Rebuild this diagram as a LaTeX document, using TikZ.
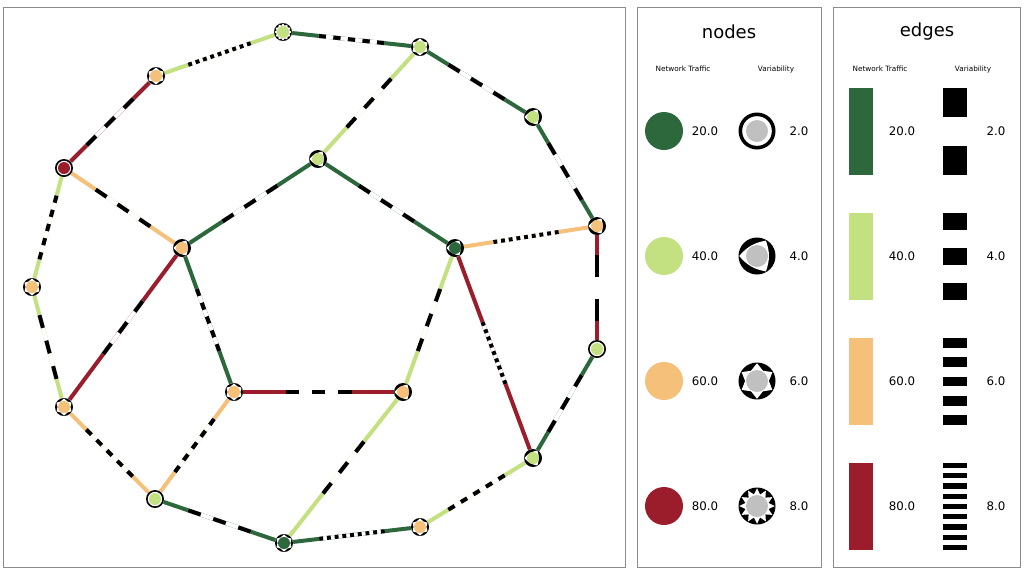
\documentclass[tikz,border=0pt]{standalone}
\usepackage{fontspec}
\setmainfont{DejaVu Sans}
\usetikzlibrary{calc}

\definecolor{tr20}{HTML}{2C683C}
\definecolor{tr40}{HTML}{C4E182}
\definecolor{tr60}{HTML}{F4C07A}
\definecolor{tr80}{HTML}{9B1D2C}
\definecolor{panelgray}{HTML}{8C8C8C}
\definecolor{hubgray}{HTML}{C0C0C0}

% edge: colour line, dashed black/white part of fixed length in the middle
\newcommand{\trafficedge}[4]{%
  \draw[edgeline,#3] (#1) -- (#2);
  \coordinate (em) at ($(#1)!0.5!(#2)$);
  \coordinate (es) at ($(em)!33pt!(#1)$);
  \coordinate (et) at ($(em)!33pt!(#2)$);
  \draw[edgeline,white] (es) -- (et);
  \pgfmathtruncatemacro{\lastseg}{#4-1}
  \foreach \k in {0,2,...,\lastseg}
    \draw[edgeline,black] ($(es)!{\k/#4}!(et)$) -- ($(es)!{(\k+1)/#4}!(et)$);
}

\newcommand{\glyphstar}[3]{%
  \fill[white] (90:{0.96*#2}) \foreach \i in {1,...,#1} {
    -- ({90+360*(\i-0.5)/#1}:{1.08*#3}) -- ({90+360*\i/#1}:{0.96*#2}) } -- cycle;
}

% glyph: centre, colour, variability code (1..4), outer radius, inner radius
\newcommand{\varglyph}[5]{%
  \begin{scope}[shift={(#1)}]
    \fill[black] (0,0) circle (#4);
    \ifcase#3\relax
    \or \fill[white] (0,0) circle ({0.8*#4});
    \or \fill[white] (180:{0.96*#4}) to[bend right=20] (60:{0.96*#4})
          to[bend right=20] (300:{0.96*#4}) to[bend right=20] cycle;
    \or \glyphstar{6}{#4}{#5}
    \or \glyphstar{12}{#4}{#5}
    \fi
    \fill[#2] (0,0) circle (#5);
  \end{scope}
}

\begin{document}
\begin{tikzpicture}
  [x=1pt,y=-1pt,
   hub/.style={circle,inner sep=0pt,minimum size=18pt},
   edgeline/.style={line width=4pt},
   panel/.style={draw=panelgray,line width=1pt},
   ttl/.style={font=\fontsize{18}{22}\selectfont},
   hdr/.style={font=\fontsize{7.3}{9}\selectfont},
   val/.style={font=\fontsize{11.8}{14}\selectfont}]
  \fill[white] (0,0) rectangle (1024,574);
  \useasboundingbox (0,0) rectangle (1024,574);

  \draw[panel] (3,7) rectangle (625,567);
  \draw[panel] (637,7) rectangle (821,567);
  \draw[panel] (833,7) rectangle (1020,567);

  % network
  \node[hub] (n1) at (283,32) {};
  \node[hub] (n2) at (420,47) {};
  \node[hub] (n3) at (533,117) {};
  \node[hub] (n4) at (597,226) {};
  \node[hub] (n5) at (597,349) {};
  \node[hub] (n6) at (533,458) {};
  \node[hub] (n7) at (420,527) {};
  \node[hub] (n8) at (284,543) {};
  \node[hub] (n9) at (155,499) {};
  \node[hub] (n10) at (64,407) {};
  \node[hub] (n11) at (32,287) {};
  \node[hub] (n12) at (64,168) {};
  \node[hub] (n13) at (156,76) {};
  \node[hub] (n14) at (318,159) {};
  \node[hub] (n15) at (455,248) {};
  \node[hub] (n16) at (403,392) {};
  \node[hub] (n17) at (234,392) {};
  \node[hub] (n18) at (182,248) {};

  \foreach \from/\to/\col/\segs in {n1/n13/tr40/17, n1/n2/tr20/9, n2/n3/tr20/5,
      n2/n14/tr40/5, n3/n4/tr20/5, n4/n15/tr60/17, n4/n5/tr80/3, n5/n6/tr20/5,
      n6/n15/tr80/17, n6/n7/tr40/9, n7/n8/tr20/17, n8/n16/tr40/5,
      n15/n16/tr40/5, n16/n17/tr80/5, n17/n18/tr20/9, n17/n9/tr60/9,
      n9/n8/tr20/5, n9/n10/tr60/9, n10/n11/tr40/5, n10/n18/tr80/5,
      n11/n12/tr40/9, n12/n13/tr80/5, n12/n18/tr60/5, n14/n18/tr20/5,
      n14/n15/tr20/5}
    {\trafficedge{\from}{\to}{\col}{\segs}}

  \foreach \hubname/\col/\code in {n1/tr40/4, n2/tr40/3, n3/tr40/2, n4/tr60/2,
      n5/tr40/1, n6/tr40/2, n7/tr60/3, n8/tr20/3, n9/tr40/1, n10/tr60/3,
      n11/tr60/3, n12/tr80/1, n13/tr60/3, n14/tr40/2, n15/tr20/2,
      n16/tr60/2, n17/tr60/3, n18/tr60/2}
    {\varglyph{\hubname}{\col}{\code}{9}{6}}

  % legend: nodes
  \node[ttl] (ttlnodes) at (729,32) {nodes};
  \node[hdr] (hdrnt) at (683,69) {Network Traffic};
  \node[hdr] (hdrnv) at (776,69) {Variability};
  \foreach \v/\col/\yc [count=\i] in {20.0/tr20/131, 40.0/tr40/256, 60.0/tr60/381, 80.0/tr80/506} {
    \fill[\col] (664,\yc) circle (19);
    \node[val] (nt\i) at (705,\yc) {\v};
  }
  \foreach \v/\yc [count=\i] in {2.0/131, 4.0/256, 6.0/381, 8.0/506} {
    \varglyph{757,\yc}{hubgray}{\i}{18.5}{11}
    \node[val] (nv\i) at (799,\yc) {\v};
  }

  % legend: edges
  \node[ttl] (ttledges) at (927,32) {edges};
  \node[hdr] (hdret) at (880,69) {Network Traffic};
  \node[hdr] (hdrev) at (973,69) {Variability};
  \foreach \v/\col/\yc [count=\i] in {20.0/tr20/131.5, 40.0/tr40/256.5, 60.0/tr60/381.5, 80.0/tr80/506.5} {
    \fill[\col] (849,\yc-43.5) rectangle (873,\yc+43.5);
    \node[val] (et\i) at (902,\yc) {\v};
  }
  \foreach \v/\segs/\yc [count=\i] in {2.0/3/131.5, 4.0/5/256.5, 6.0/9/381.5, 8.0/17/506.5} {
    \pgfmathtruncatemacro{\lastseg}{\segs-1}
    \foreach \k in {0,2,...,\lastseg}
      \fill[black] (943,{\yc-43.5+87*\k/\segs}) rectangle (967,{\yc-43.5+87*(\k+1)/\segs});
    \node[val] (ev\i) at (996,\yc) {\v};
  }
\end{tikzpicture}
\end{document}
